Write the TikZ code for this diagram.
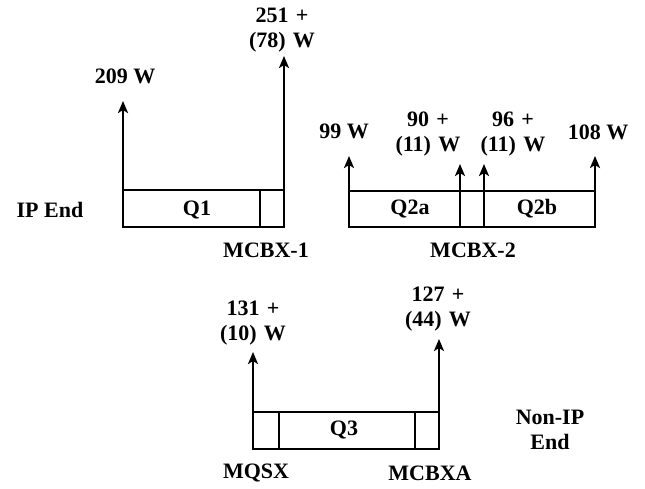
\documentclass[tikz,border=0pt]{standalone}
\usepackage{fontspec}
\setmainfont{Liberation Serif}
\usetikzlibrary{arrows.meta}
\begin{document}
\begin{tikzpicture}[x=1pt,y=-1pt,
  lbl/.style={font=\fontsize{22}{25}\selectfont\bfseries, inner sep=0pt, align=center},
  mag/.style={draw, line width=2.8pt, inner sep=0pt, outer sep=0pt},
  seg/.style={line width=2.8pt},
  flow/.style={line width=2.8pt, -{Stealth[length=12pt,width=10pt,inset=3pt]}}]
\useasboundingbox (0,0) rectangle (645,489);
% ---- Q1 ----
\node[mag, minimum width=161pt, minimum height=37pt] (q1box) at (203.5,208.5) {};
\draw[seg] (260,190) -- (260,227);
\node[lbl] (q1) at (197,210) {Q1};
\node[lbl] (ipend) at (50,210) {IP End};
\node[lbl] (mcbx1) at (266,250) {MCBX-1};
\coordinate (t1a) at (123,101);
\coordinate (t1b) at (284,56);
\draw[flow] (q1box.north west) -- (t1a);
\draw[flow] (q1box.north east) -- (t1b);
\node[lbl] (h1a) at (125,76) {209 W};
\node[lbl, text width=90pt] (h1b) at (282,30) {251 +\\(78) W};
% ---- Q2 ----
\node[mag, minimum width=246pt, minimum height=36pt] (q2box) at (472,209) {};
\coordinate (b2l) at (460,227);
\coordinate (b2r) at (484,227);
\coordinate (t2a) at (349,156);
\coordinate (t2b) at (460,164);
\coordinate (t2c) at (484,164);
\coordinate (t2d) at (595,156);
\draw[flow] (q2box.north west) -- (t2a);
\draw[flow] (b2l) -- (t2b);
\draw[flow] (b2r) -- (t2c);
\draw[flow] (q2box.north east) -- (t2d);
\node[lbl] (q2a) at (410,209) {Q2a};
\node[lbl] (q2b) at (537,209) {Q2b};
\node[lbl] (mcbx2) at (473,250) {MCBX-2};
\node[lbl] (h2a) at (344,131) {99 W};
\node[lbl, text width=90pt] (h2b) at (428,134) {90 +\\(11) W};
\node[lbl, text width=90pt] (h2c) at (513,134) {96 +\\(11) W};
\node[lbl] (h2d) at (598,132) {108 W};
% ---- Q3 ----
\node[mag, minimum width=186pt, minimum height=37pt] (q3box) at (346,430.5) {};
\draw[seg] (279,412) -- (279,449);
\draw[seg] (415,412) -- (415,449);
\coordinate (t3a) at (253,352);
\coordinate (t3b) at (439,339);
\draw[flow] (q3box.north west) -- (t3a);
\draw[flow] (q3box.north east) -- (t3b);
\node[lbl] (q3) at (344,430) {Q3};
\node[lbl, text width=90pt] (h3a) at (253,323) {131 +\\(10) W};
\node[lbl, text width=90pt] (h3b) at (438,309) {127 +\\(44) W};
\node[lbl, text width=90pt] (nonip) at (550,430) {Non-IP\\End};
\node[lbl] (mqsx) at (256,473) {MQSX};
\node[lbl] (mcbxa) at (430,473) {MCBXA};
\end{tikzpicture}
\end{document}
